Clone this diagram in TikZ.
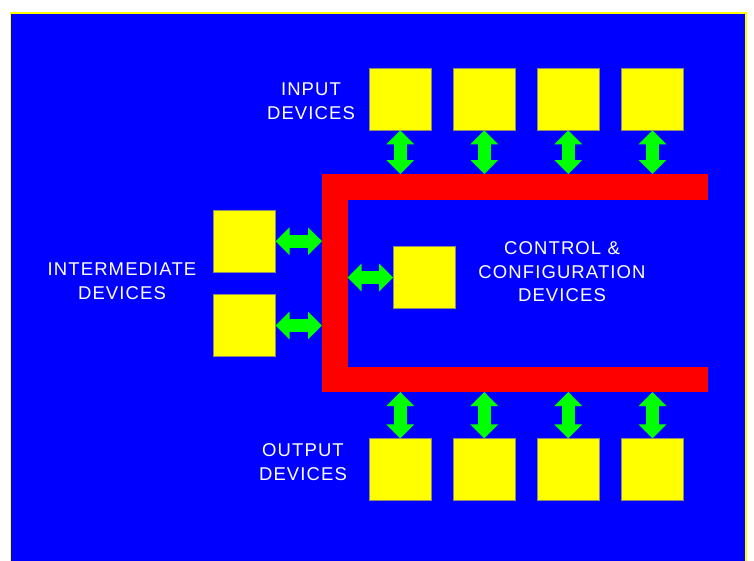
\documentclass[tikz,border=0pt]{standalone}
\usepackage{fontspec}
\newfontfamily\pixfont[LetterSpace=6]{Liberation Sans}
\usetikzlibrary{arrows.meta}
\definecolor{panelblue}{RGB}{0,0,255}
\definecolor{devyellow}{RGB}{255,255,0}
\definecolor{busred}{RGB}{255,0,0}
\definecolor{linkgreen}{RGB}{0,255,0}
\definecolor{edgegray}{RGB}{140,140,110}
\begin{document}
\begin{tikzpicture}[x=1pt, y=-1pt,
  device/.style={fill=devyellow, draw=edgegray, line width=0.6pt,
    minimum size=62pt, inner sep=0pt},
  link/.style={draw=linkgreen, line width=13pt,
    {Triangle[width=27pt,length=14pt]}-{Triangle[width=27pt,length=14pt]}},
  caption/.style={text=white, align=center,
    font=\pixfont\fontsize{18.5}{23.5}\selectfont}]
  \useasboundingbox (0,0) rectangle (754,560);
  % Panel
  \draw[devyellow, line width=1.5pt, fill=panelblue] (10.5,13.2) rectangle (746.2,580);
  % Bus
  \draw[busred, line width=25.5pt, line join=miter]
    (708,186.75) -- (334.75,186.75) -- (334.75,379.25) -- (708,379.25);
  \coordinate (bustop) at (0,174);
  \coordinate (busbot) at (0,392);
  \coordinate (busleft) at (322,0);
  \coordinate (businner) at (347.5,0);
  % Input and output devices
  \foreach \i/\x in {1/400.3, 2/484.3, 3/568.3, 4/652.5} {
    \node[device] (in\i) at (\x,99) {};
    \node[device] (out\i) at (\x,469.7) {};
    \draw[link] (in\i.south) -- (in\i.south |- bustop);
    \draw[link] (out\i.north |- busbot) -- (out\i.north);
  }
  % Intermediate devices
  \foreach \i/\y in {1/241.2, 2/325.5} {
    \node[device] (mid\i) at (244.3,\y) {};
    \draw[link] (mid\i.east) -- (mid\i.east -| busleft);
  }
  % Control & configuration device
  \node[device] (ctrl) at (424.5,277.5) {};
  \draw[link] (ctrl.west -| businner) -- (ctrl.west);
  % Captions
  \node[caption] (inlabel) at (311,101) {INPUT\\DEVICES};
  \node[caption] (midlabel) at (122,281) {INTERMEDIATE\\DEVICES};
  \node[caption] (ctrllabel) at (562,272) {CONTROL \&\\CONFIGURATION\\DEVICES};
  \node[caption] (outlabel) at (303,462) {OUTPUT\\DEVICES};
\end{tikzpicture}
\end{document}
